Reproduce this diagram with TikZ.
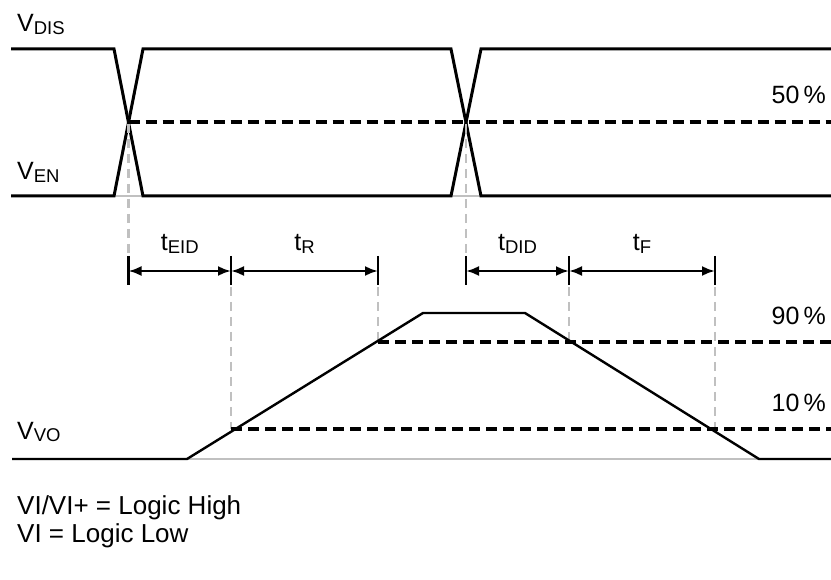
\documentclass[tikz,border=0pt]{standalone}
\usepackage{fontspec}
\setmainfont{Liberation Sans}
\usetikzlibrary{arrows.meta}
\definecolor{guide}{RGB}{192,192,192}
\newcommand{\Lbl}[2]{#1{\fontsize{18.5}{18}\selectfont\raisebox{-0.3ex}{#2}}}
\newcommand{\TimeSpan}[4]{%
  \draw[<->, line width=2.4pt] (#1) -- (#2)
    node (#3) [midway, anchor=base, yshift=20pt] {#4};
}

\begin{document}
\begin{tikzpicture}[x=1pt, y=-1pt, >={Latex[length=13pt,width=10pt]},
    font=\fontsize{25}{28}\selectfont]
    \useasboundingbox (0,0) rectangle (831,580);

    % enable / disable inputs
    \draw[line width=2.8pt, guide] (114,196) -- (143,196);
    \draw[line width=2.8pt, guide] (451,196) -- (481,196);
    \draw[line width=3pt, line join=miter]
      (11,49) -- (114,49) -- (143,196) -- (451,196) -- (481,49) -- (831,49);
    \draw[line width=3pt, line join=miter]
      (11,196) -- (114,196) -- (143,49) -- (451,49) -- (481,196) -- (831,196);
    \draw[line width=3.3pt, dash pattern=on 11pt off 6pt] (128.5,122) -- (831,122);

    \node (vdis) [anchor=base west, inner sep=0pt] at (17,32) {\Lbl{V}{DIS}};
    \node (ven) [anchor=base west, inner sep=0pt] at (17,180) {\Lbl{V}{EN}};
    \node (half) [anchor=base east, inner sep=0pt] at (826,104) {50\,\%};

    % time marks
    \foreach \n/\x in {a/128.5, b/231, c/378, d/466, e/569, f/715} {
      \coordinate (\n) at (\x,271);
      \draw[line width=2.4pt] (\x,256) -- (\x,285);
    }
    \draw[line width=2.8pt, guide, dash pattern=on 9pt off 6pt] (128.5,124) -- (128.5,256);
    \draw[line width=2.8pt, guide, dash pattern=on 9pt off 6pt] (466,124) -- (466,256);
    \draw[line width=2.8pt, guide, dash pattern=on 9pt off 6pt] (231,287) -- (231,429);
    \draw[line width=2.8pt, guide, dash pattern=on 9pt off 6pt] (378,287) -- (378,342);
    \draw[line width=2.8pt, guide, dash pattern=on 9pt off 6pt] (569,287) -- (569,342);
    \draw[line width=2.8pt, guide, dash pattern=on 9pt off 6pt] (715,287) -- (715,429);

    \TimeSpan{a}{b}{teid}{\Lbl{t}{EID}}
    \TimeSpan{b}{c}{tr}{\Lbl{t}{R}}
    \TimeSpan{d}{e}{tdid}{\Lbl{t}{DID}}
    \TimeSpan{e}{f}{tf}{\Lbl{t}{F}}

    % output
    \draw[line width=2.8pt, guide] (187,459) -- (759,459);
    \draw[line width=2.4pt, line join=miter]
      (12,459) -- (187,459) -- (423,313) -- (525,313) -- (759,459) -- (831,459);
    \draw[line width=3.3pt, dash pattern=on 11pt off 6pt] (378,342) -- (831,342);
    \draw[line width=3.3pt, dash pattern=on 11pt off 6pt] (231,429) -- (831,429);

    \node (vvo) [anchor=base west, inner sep=0pt] at (17,439) {\Lbl{V}{VO}};
    \node (ninety) [anchor=base east, inner sep=0pt] at (826,325) {90\,\%};
    \node (ten) [anchor=base east, inner sep=0pt] at (826,412) {10\,\%};

    \node (logic) [anchor=base west, align=left, inner sep=0pt,
      font=\fontsize{26}{28}\selectfont] at (17,542)
      {VI/VI+ = Logic High\\VI = Logic Low};
\end{tikzpicture}
\end{document}
